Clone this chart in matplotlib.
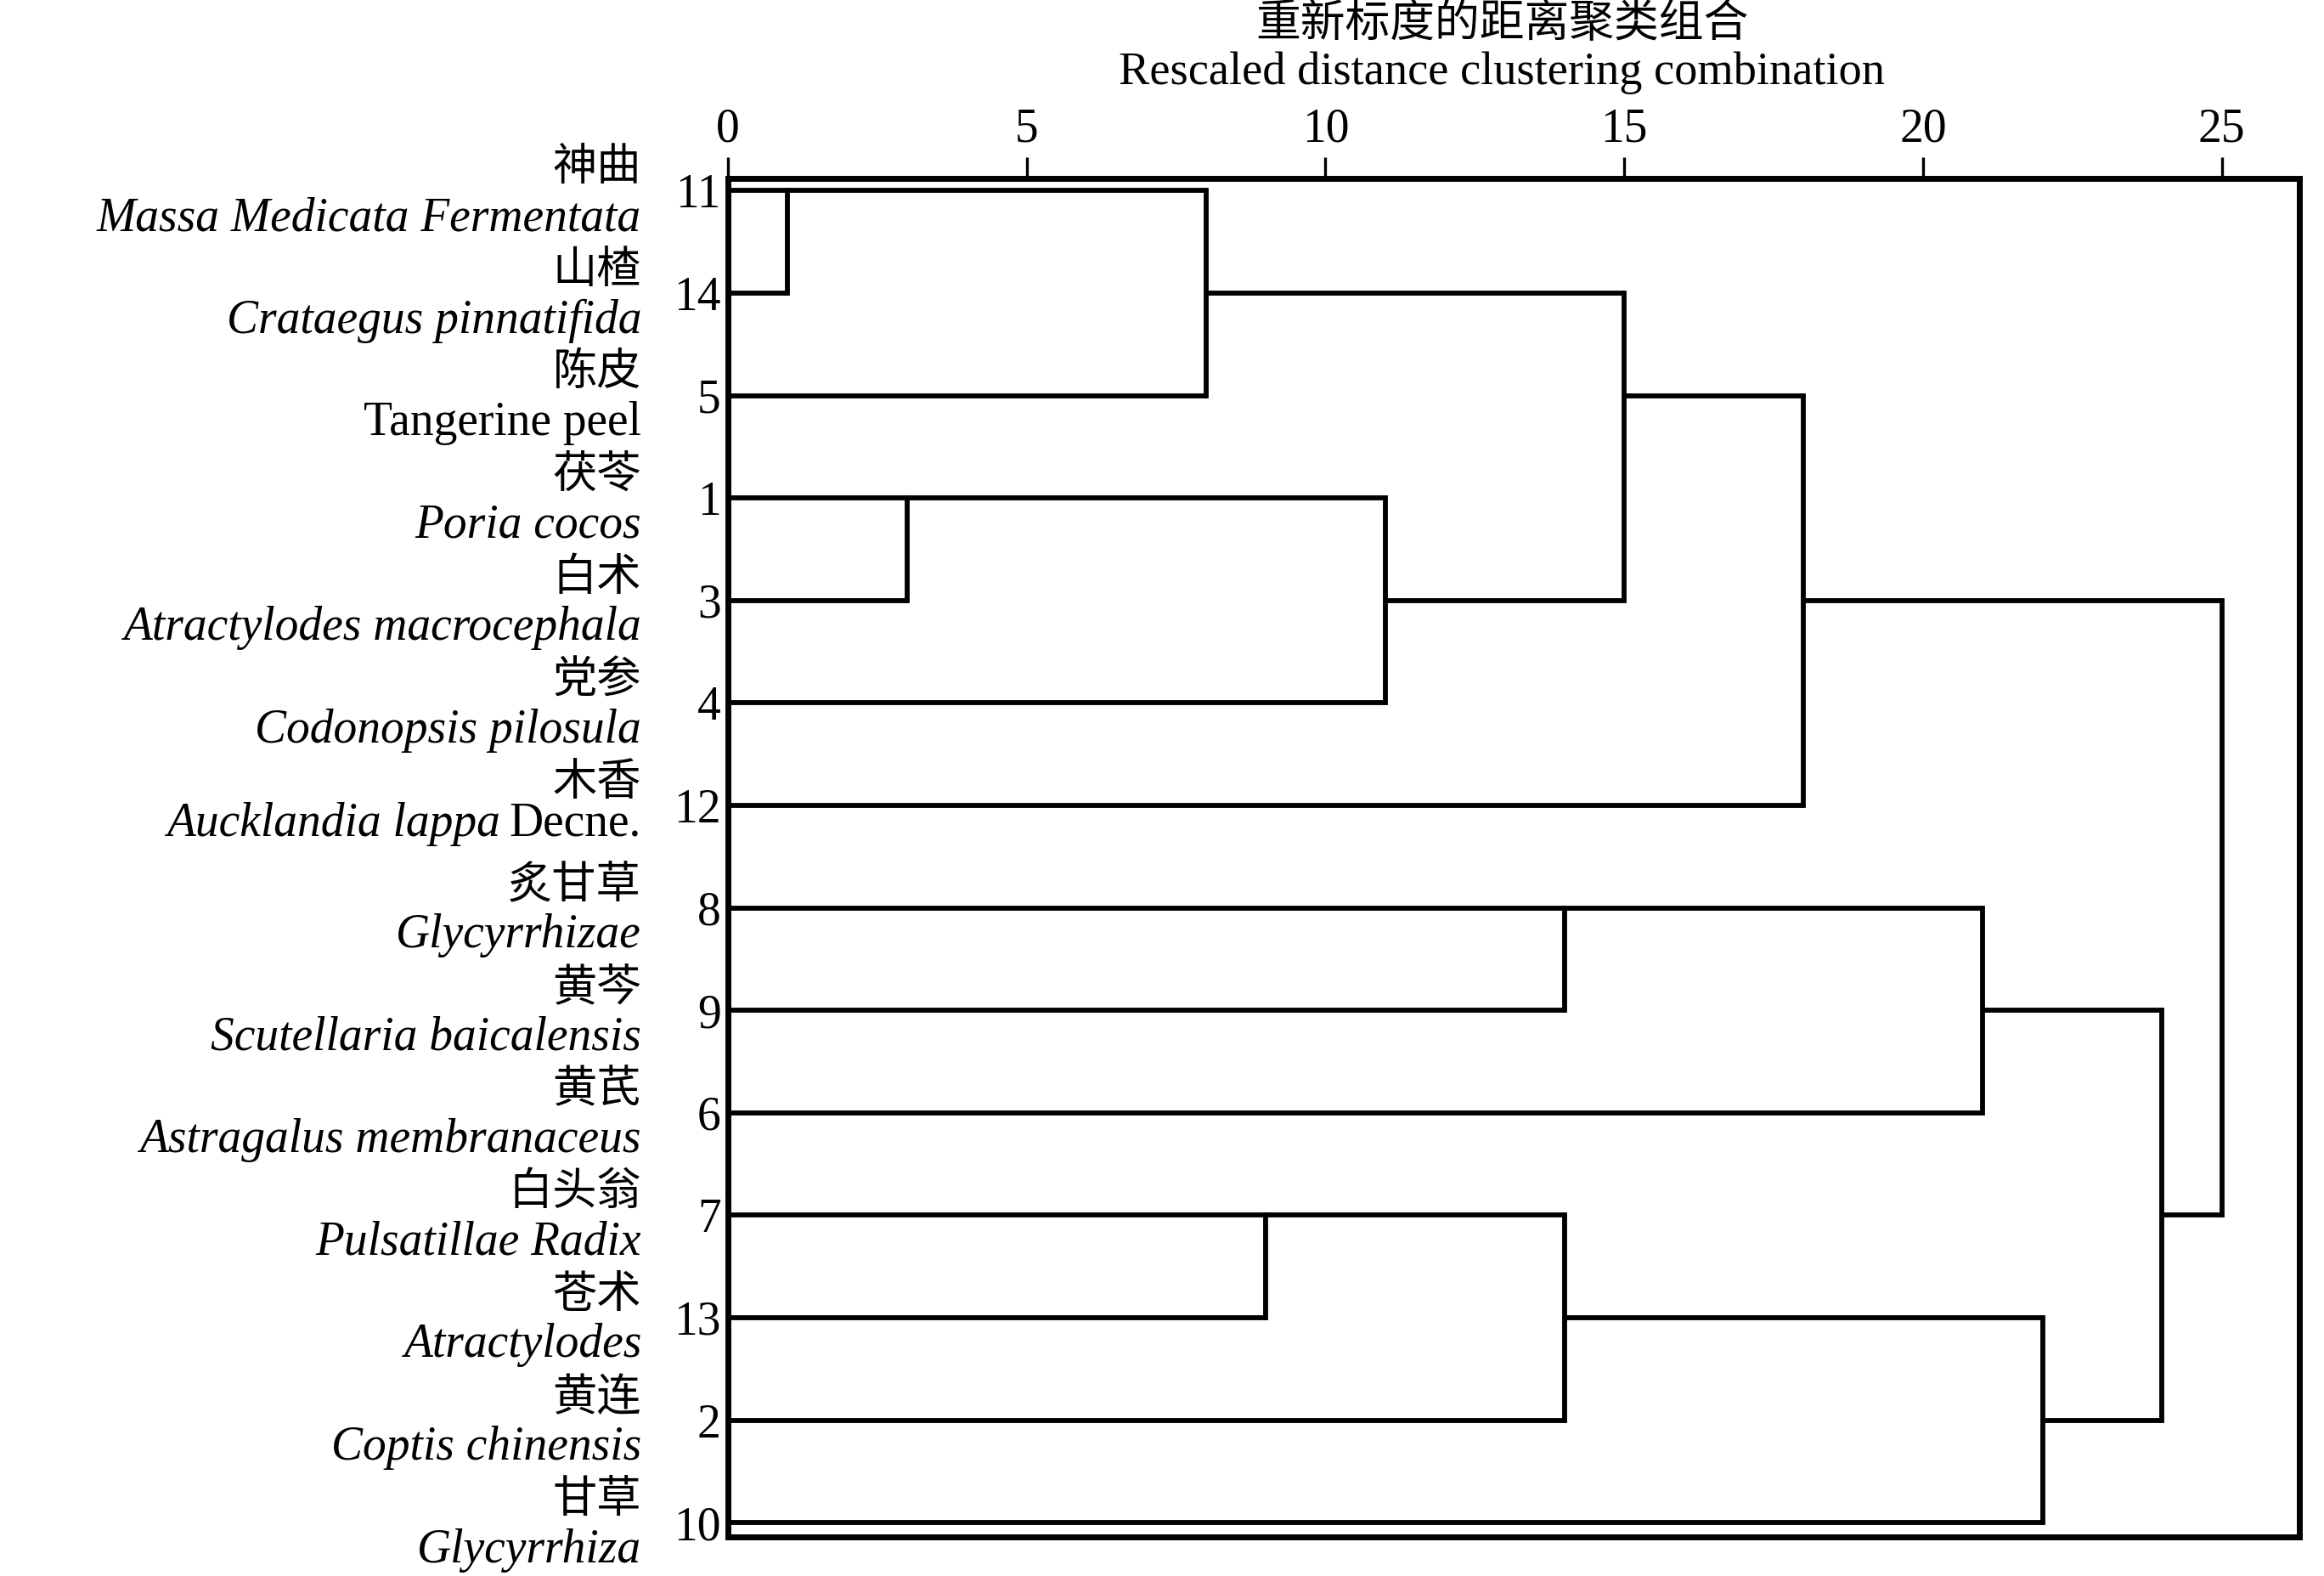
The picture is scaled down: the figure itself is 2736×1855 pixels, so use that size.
import matplotlib
matplotlib.use("Agg")
import matplotlib.pyplot as plt
import matplotlib.transforms as mtransforms

plt.rcParams['font.family'] = ['Liberation Serif', 'Noto Sans CJK SC']

# leaf order, top to bottom (case numbers)
leaf_ids = [11, 14, 5, 1, 3, 4, 12, 8, 9, 6, 7, 13, 2, 10]
names_cn = ['神曲', '山楂', '陈皮', '茯苓', '白术', '党参', '木香',
            '炙甘草', '黄芩', '黄芪', '白头翁', '苍术', '黄连', '甘草']
names_lat = ['Massa Medicata Fermentata', 'Crataegus pinnatifida', 'Tangerine peel',
             'Poria cocos', 'Atractylodes macrocephala', 'Codonopsis pilosula',
             'Aucklandia lappa', 'Glycyrrhizae', 'Scutellaria baicalensis',
             'Astragalus membranaceus', 'Pulsatillae Radix', 'Atractylodes',
             'Coptis chinensis', 'Glycyrrhiza']
lat_italic = [True, True, False, True, True, True, True,
              True, True, True, True, True, True, True]

# merge steps: new node id, joined nodes, rescaled distance
merge_node = [15, 16, 17, 18, 19, 20, 21, 22, 23, 24, 25, 26, 27]
merge_a = [11, 1, 15, 7, 16, 8, 18, 17, 22, 20, 21, 24, 23]
merge_b = [14, 3, 5, 13, 4, 9, 2, 19, 12, 6, 10, 25, 26]
merge_dist = [1, 3, 8, 9, 11, 14, 14, 15, 18, 21, 22, 24, 25]

fig = plt.figure(figsize=(13.68, 9.275), dpi=200)
ax = fig.add_axes([857 / 2736, 1 - 1809 / 1855, (2707 - 857) / 2736, (1809 - 210) / 1855])

row = {leaf: i for i, leaf in enumerate(leaf_ids)}
height = {leaf: 0 for leaf in leaf_ids}
lw = 2.1
for node, a, b, d in zip(merge_node, merge_a, merge_b, merge_dist):
    for child in (a, b):
        ax.plot([height[child], d], [row[child], row[child]], color='black', lw=lw,
                solid_capstyle='butt')
    ax.plot([d, d], [row[a], row[b]], color='black', lw=lw, solid_capstyle='projecting')
    row[node] = (row[a] + row[b]) // 2
    height[node] = d

ax.set_xlim(0, 26.3)
ax.set_ylim(13.14, -0.12)
for sp in ax.spines.values():
    sp.set_linewidth(2.5)

ax.xaxis.tick_top()
ax.set_xticks([0, 5, 10, 15, 20, 25])
ax.tick_params(axis='x', length=9, width=1.2, pad=2.5, labelsize=20)
ax.set_yticks(range(len(leaf_ids)))
ax.set_yticklabels([str(v) for v in leaf_ids])
ax.tick_params(axis='y', length=0, pad=3.0, labelsize=20)

xlab = -1.45
for i, (cn, lat, it) in enumerate(zip(names_cn, names_lat, lat_italic)):
    ax.text(xlab, i - 0.21, cn, ha='right', va='center', fontsize=18.8, clip_on=False)
    if lat == 'Aucklandia lappa':
        t = ax.text(xlab, i + 0.18, 'Decne.', ha='right', va='center', fontsize=20,
                    clip_on=False)
        fig.canvas.draw()
        w = t.get_window_extent().width * 72 / fig.dpi
        tr = mtransforms.offset_copy(ax.transData, fig=fig, x=-w - 4, y=0, units='points')
        ax.text(xlab, i + 0.18, lat, ha='right', va='center', fontsize=20,
                style='italic', transform=tr, clip_on=False)
    else:
        ax.text(xlab, i + 0.27, lat, ha='right', va='center', fontsize=20,
                style='italic' if it else 'normal', clip_on=False)

fig.text(1768 / 2736, 1 - 29 / 1855, '重新标度的距离聚类组合', ha='center', va='center',
         fontsize=19.0)
fig.text(1768 / 2736, 1 - 86 / 1855, 'Rescaled distance clustering combination',
         ha='center', va='center', fontsize=19.6)

fig.savefig('out.png', dpi=200, facecolor='white')
